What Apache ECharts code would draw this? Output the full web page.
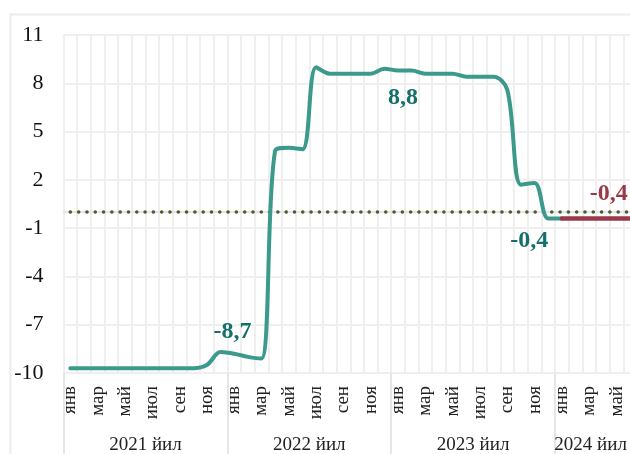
<!DOCTYPE html>
<html>
<head>
<meta charset="utf-8">
<script src="https://cdn.jsdelivr.net/npm/echarts@6/dist/echarts.min.js"></script>
<style>
  html, body { margin: 0; padding: 0; background: #fff; }
  #main { width: 630px; height: 454px; }
</style>
</head>
<body>
<div id="main"></div>
<script>
// месяцы (подписи оси) — 2021 янв .. 2024 июн
var monthNames = ['янв', 'фев', 'мар', 'апр', 'май', 'июн', 'июл', 'авг', 'сен', 'окт', 'ноя', 'дек'];
var years = ['2021 йил', '2022 йил', '2023 йил', '2024 йил'];
var monthsPerYear = [12, 12, 12, 6];

// фактические значения (бирюзовая линия)
var actual = [
  -9.7, -9.7, -9.7, -9.7, -9.7, -9.7, -9.7, -9.7, -9.7, -9.7, -9.5, -8.7,
  -8.8, -9.0, -9.1, 3.8, 4.0, 3.9, 9.0, 8.6, 8.6, 8.6, 8.6, 8.9,
  8.8, 8.8, 8.6, 8.6, 8.6, 8.4, 8.4, 8.4, 7.6, 1.7, 1.8, -0.4,
  -0.4
];
// прогноз 2024 (красная линия)
var forecast2024 = [-0.4, -0.4, -0.4, -0.4, -0.4, -0.4];

var yTicks = { min: -10, max: 11, step: 3 };

// подписи значений: индекс месяца, серия
var callouts = [
  { idx: 11, series: 'actual', color: '#15706a', offset: [12, -20] },
  { idx: 24, series: 'actual', color: '#15706a', offset: [5, 27] },
  { idx: 35, series: 'actual', color: '#15706a', offset: [-19, 22] },
  { idx: 39, series: 'forecast', color: '#983a4a', offset: [6, -25] }
];

var categories = [];
var yearStarts = [];
var pos = 0;
years.forEach(function (y, i) {
  yearStarts.push(pos);
  for (var m = 0; m < monthsPerYear[i]; m++) categories.push(monthNames[m]);
  pos += monthsPerYear[i];
});
// центр подписи года (2024 — по видимой части)
var yearCenters = [6, 18, 30, 38.6];
var total = categories.length;

var actualData = categories.map(function (c, i) { return i < actual.length ? actual[i] : null; });
var fcStart = total - forecast2024.length;
var forecastData = categories.map(function (c, i) { return i >= fcStart ? forecast2024[i - fcStart] : null; });
var zeroLine = categories.map(function () { return 0; });

function fmt(v) { return v.toFixed(1).replace('.', ','); }

function marks(name, arr) {
  return callouts.filter(function (c) { return c.series === name; }).map(function (c) {
    return {
      coord: [c.idx, arr[c.idx]],
      value: arr[c.idx],
      label: { color: c.color, offset: c.offset }
    };
  });
}

var serif = 'Liberation Serif, Times New Roman, serif';
var gridColor = '#efefef';
var calloutLabel = {
  show: true, position: 'inside', fontFamily: serif, fontSize: 24, fontWeight: 'bold',
  formatter: function (p) { return fmt(p.value); }
};

var chart = echarts.init(document.getElementById('main'));
chart.setOption({
  animation: false,
  graphic: [{
    type: 'rect',
    left: 8, top: 12,
    shape: { width: 700, height: 500 },
    style: { fill: 'none', stroke: '#ececec', lineWidth: 2 },
    z: -10
  }],
  grid: { left: 63.5, right: -7, top: 35, bottom: 81, outerBoundsMode: 'none', containLabel: false },
  xAxis: [{
    type: 'category',
    data: categories,
    boundaryGap: true,
    axisLine: { show: true, lineStyle: { color: '#e6e6e6', width: 2 } },
    axisTick: { show: false },
    axisLabel: {
      interval: 1, rotate: 90, margin: 13,
      fontFamily: serif, fontSize: 19, color: '#222'
    },
    splitLine: { show: true, interval: 0, lineStyle: { color: gridColor, width: 2 } }
  }, {
    type: 'value',
    min: 0, max: total,
    position: 'bottom',
    axisLine: { show: false },
    splitLine: { show: false },
    axisTick: {
      show: true, customValues: yearStarts, length: 82, inside: false,
      lineStyle: { color: '#e6e6e6', width: 2 }
    },
    axisLabel: {
      customValues: yearCenters, margin: 63,
      fontFamily: serif, fontSize: 19, color: '#222',
      formatter: function (v) { return years[yearCenters.indexOf(v)] || ''; }
    }
  }],
  yAxis: {
    type: 'value',
    min: yTicks.min, max: yTicks.max, interval: yTicks.step,
    axisLine: { show: false },
    axisTick: { show: false },
    axisLabel: { margin: 20, fontFamily: serif, fontSize: 22, color: '#111' },
    splitLine: { lineStyle: { color: gridColor, width: 2 } }
  },
  series: [{
    type: 'line',
    data: zeroLine,
    symbol: 'none',
    silent: true,
    lineStyle: { color: '#4a5d2b', width: 3.5, type: [0.1, 8.2], cap: 'round' },
    z: 3
  }, {
    name: 'actual',
    type: 'line',
    data: actualData,
    symbol: 'none',
    smooth: 0.35,
    lineStyle: { color: '#3b9a8b', width: 4, cap: 'round' },
    z: 4,
    markPoint: {
      symbol: 'circle', symbolSize: 0,
      label: calloutLabel,
      data: marks('actual', actual)
    }
  }, {
    name: 'forecast',
    type: 'line',
    data: forecastData,
    symbol: 'none',
    lineStyle: { color: '#983a4a', width: 4.5, cap: 'round' },
    z: 5,
    markPoint: {
      symbol: 'circle', symbolSize: 0,
      label: calloutLabel,
      data: marks('forecast', forecastData)
    }
  }]
});
</script>
</body>
</html>
